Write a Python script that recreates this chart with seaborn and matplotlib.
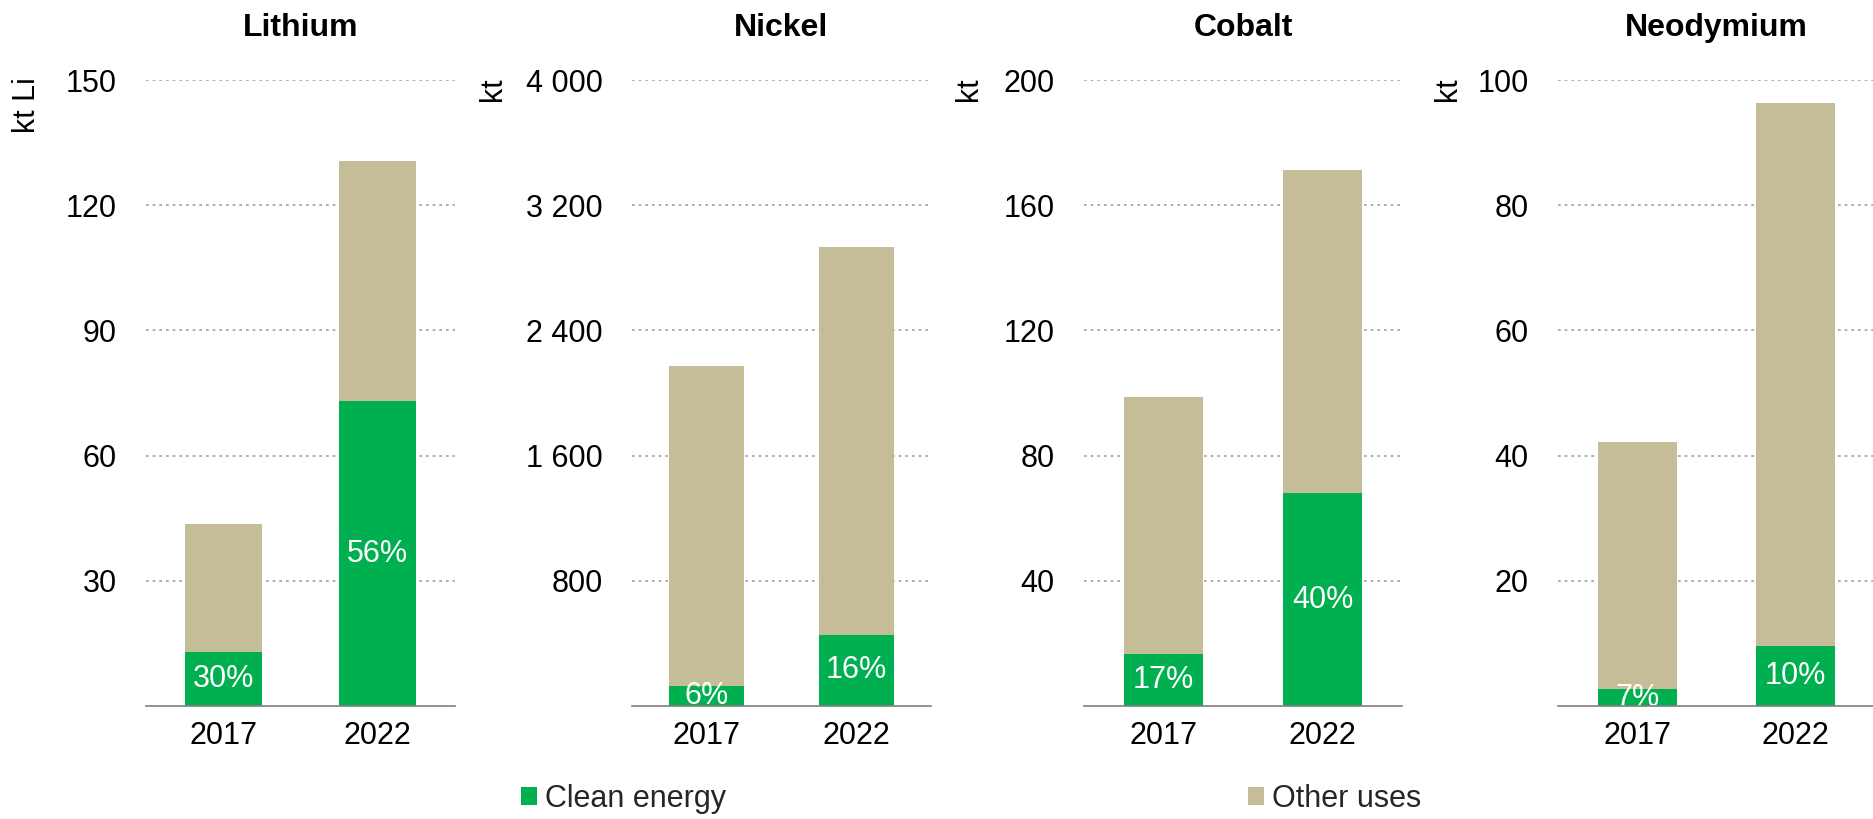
import matplotlib
matplotlib.use("Agg")
import matplotlib.pyplot as plt
import seaborn as sns
import pandas as pd
from matplotlib.patches import Patch

# ---------------- data ----------------
years = ["2017", "2022"]
minerals = ["Lithium", "Nickel", "Cobalt", "Neodymium"]
units = ["kt Li", "kt", "kt", "kt"]

lithium_clean = [13.0, 73.0]
lithium_other = [30.5, 57.5]
nickel_clean = [125, 455]
nickel_other = [2045, 2475]
cobalt_clean = [16.6, 68.0]
cobalt_other = [82.2, 103.3]
neodymium_clean = [2.7, 9.6]
neodymium_other = [39.4, 86.8]

lithium_share = ["30%", "56%"]
nickel_share = ["6%", "16%"]
cobalt_share = ["17%", "40%"]
neodymium_share = ["7%", "10%"]

lithium_ticks = [30, 60, 90, 120, 150]
lithium_ticklabels = ["30", "60", "90", "120", "150"]
nickel_ticks = [800, 1600, 2400, 3200, 4000]
nickel_ticklabels = ["800", "1 600", "2 400", "3 200", "4 000"]
cobalt_ticks = [40, 80, 120, 160, 200]
cobalt_ticklabels = ["40", "80", "120", "160", "200"]
neodymium_ticks = [20, 40, 60, 80, 100]
neodymium_ticklabels = ["20", "40", "60", "80", "100"]

series_labels = ["Clean energy", "Other uses"]

# ---------------- style ----------------
sns.set_theme(style="white")
plt.rcParams["font.family"] = ["Liberation Sans", "DejaVu Sans"]

GREEN = "#00B050"
TAN = "#C4BD97"
GRID = "#A0A0A0"
AXIS = "#808080"
FS = 22

W, H = 1874, 819
fig = plt.figure(figsize=(W / 100, H / 100), dpi=100)

def fx(px):
    return px / W

def fy(py):
    return 1 - py / H

top_px, bot_px = 80, 706
axes_x = [(146, 455), (632, 931), (1084, 1402), (1558, 1875)]
unit_x = [27.5, 493, 969, 1448]

panels = [
    (lithium_clean, lithium_other, lithium_share, lithium_ticks, lithium_ticklabels),
    (nickel_clean, nickel_other, nickel_share, nickel_ticks, nickel_ticklabels),
    (cobalt_clean, cobalt_other, cobalt_share, cobalt_ticks, cobalt_ticklabels),
    (neodymium_clean, neodymium_other, neodymium_share, neodymium_ticks, neodymium_ticklabels),
]

for i, (clean, other, share, ticks, ticklabels) in enumerate(panels):
    x0, x1 = axes_x[i]
    ax = fig.add_axes([fx(x0), fy(bot_px), (x1 - x0) / W, (bot_px - top_px) / H])
    df = pd.DataFrame({"year": years, "clean": clean, "other": other})
    df["total"] = df["clean"] + df["other"]
    sns.barplot(data=df, x="year", y="total", color=TAN, width=0.5,
                saturation=1, edgecolor="none", linewidth=0, ax=ax, zorder=2)
    sns.barplot(data=df, x="year", y="clean", color=GREEN, width=0.5,
                saturation=1, edgecolor="none", linewidth=0, ax=ax, zorder=3)
    for j, (c, lab) in enumerate(zip(clean, share)):
        ax.text(j, c / 2, lab, color="white", fontsize=FS, ha="center",
                va="center", clip_on=True, zorder=4)
    ax.set_ylim(0, ticks[-1])
    ax.set_xlim(-0.5, 1.5)
    ax.set_yticks(ticks)
    ax.set_yticklabels(ticklabels)
    ax.set_xlabel("")
    ax.set_ylabel("")
    ax.set_axisbelow(True)
    ax.yaxis.grid(True, color=GRID, linestyle=(0, (1.6, 2.4)), linewidth=1.2)
    ax.xaxis.grid(False)
    for s in ["left", "top", "right"]:
        ax.spines[s].set_visible(False)
    ax.spines["bottom"].set_color(AXIS)
    ax.spines["bottom"].set_linewidth(1.2)
    ax.spines["bottom"].set_zorder(5)
    ax.tick_params(axis="y", length=0, pad=21, labelsize=FS, labelcolor="black")
    ax.tick_params(axis="x", length=0, pad=11, labelsize=FS, labelcolor="black")
    ax.set_title(minerals[i], fontsize=23, fontweight="bold", pad=31.5, color="black")
    fig.text(fx(unit_x[i]), fy(77), units[i], rotation=90, ha="center", va="top",
             fontsize=FS, color="black")

leg_kw = dict(loc="center left", frameon=False, borderpad=0, borderaxespad=0,
              handlelength=0.53, handleheight=0.55, handletextpad=0.27, fontsize=FS)
fig.legend(handles=[Patch(facecolor=GREEN, edgecolor="none")], labels=[series_labels[0]],
           bbox_to_anchor=(fx(521), fy(799)), **leg_kw)
fig.legend(handles=[Patch(facecolor=TAN, edgecolor="none")], labels=[series_labels[1]],
           bbox_to_anchor=(fx(1248), fy(799)), **leg_kw)

fig.savefig("out.png", dpi=100)
